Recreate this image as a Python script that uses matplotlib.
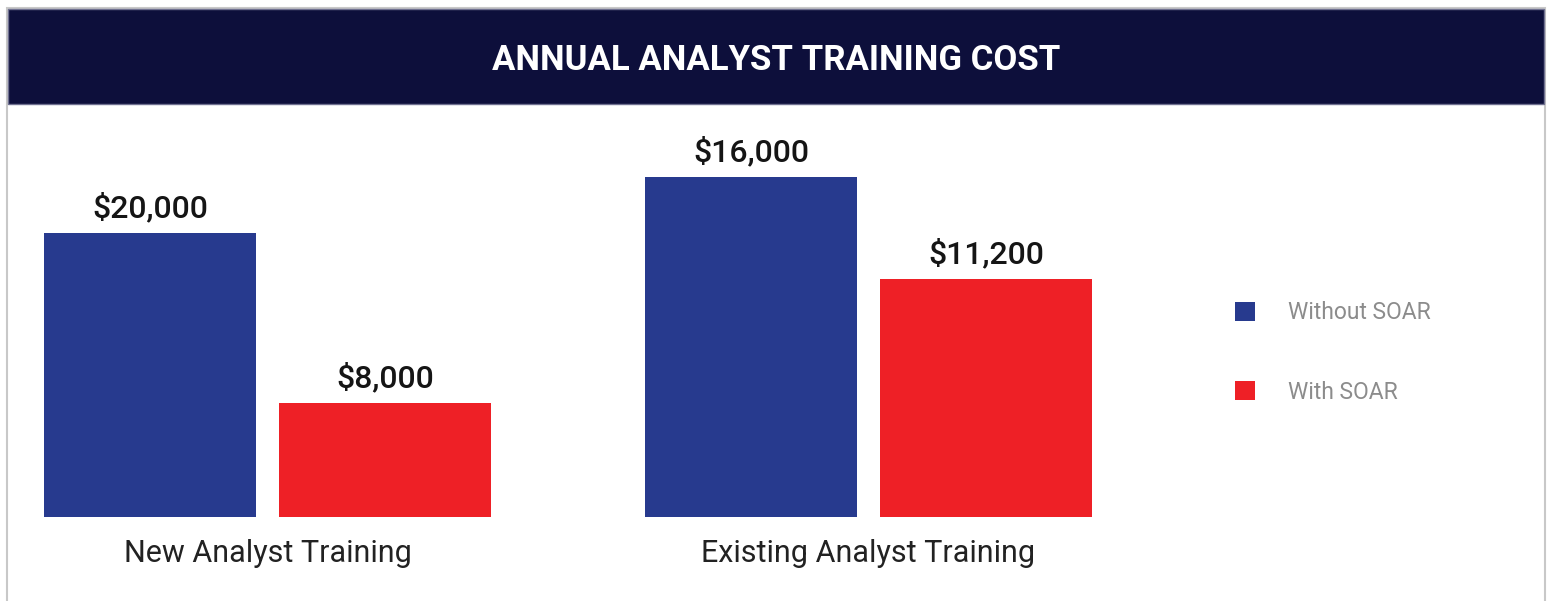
import matplotlib
matplotlib.use("Agg")
import matplotlib.pyplot as plt
from matplotlib.patches import Rectangle

plt.rcParams['font.family'] = ['Roboto', 'DejaVu Sans']

# data
groups = ['New Analyst Training', 'Existing Analyst Training']
series = ['Without SOAR', 'With SOAR']
without_soar = [20000, 16000]
with_soar = [8000, 11200]
# each group in the original is drawn on its own scale
group_ymax = [27958, 18682]

colors = ['#273a8e', '#ee2026']
title = 'ANNUAL ANALYST TRAINING COST'

W, H = 1549, 601
fig = plt.figure(figsize=(W / 100, H / 100), dpi=100)
fig.patch.set_facecolor('white')


def px(x0, y0, w, h):
    # pixel box (top-left origin) -> figure fraction
    return [x0 / W, (H - y0 - h) / H, w / W, h / H]


# frame + title band
fig.patches.append(Rectangle((7.5 / W, -0.05), (1544.5 - 7.5) / W, (H - 8) / H + 0.05,
                             transform=fig.transFigure, facecolor='none',
                             edgecolor='#c8c8c8', lw=1.5))
fig.patches.append(Rectangle((8 / W, (H - 104) / H), (1544 - 8) / W, 95 / H,
                             transform=fig.transFigure, facecolor='#0d0f3b',
                             edgecolor='#6f7090', lw=1))
fig.text(776 / W, (H - 60) / H, title, color='white', fontsize=25,
         fontweight='semibold', ha='center', va='center')

lefts = [44, 645]
bar_w = 0.902
handles = []
for i, g in enumerate(groups):
    ax = fig.add_axes(px(lefts[i], 120, 447, 397))
    vals = [without_soar[i], with_soar[i]]
    bars = ax.bar([0, 1], vals, width=bar_w, color=colors)
    handles = bars
    ax.set_xlim(-bar_w / 2, 1 + bar_w / 2)
    ax.set_ylim(0, group_ymax[i])
    ax.axis('off')
    for b, v in zip(bars, vals):
        ax.annotate('${:,}'.format(v), (b.get_x() + b.get_width() / 2, v),
                    xytext=(0, 7), textcoords='offset points',
                    ha='center', va='bottom', fontsize=23,
                    fontweight='medium', color='#151515')
    ax.text(0.5, -36 / 397, g, transform=ax.transAxes, ha='center',
            va='center', fontsize=22, color='#222222')

fig.legend(handles, series, loc='center left',
           bbox_to_anchor=(1235 / W, (H - 352.5) / H), frameon=False,
           fontsize=16.5, labelcolor='#8c8c8c', handlelength=0.87,
           handleheight=0.87, handletextpad=1.45, labelspacing=2.45,
           borderpad=0, borderaxespad=0)

fig.savefig('out.png', dpi=100)
